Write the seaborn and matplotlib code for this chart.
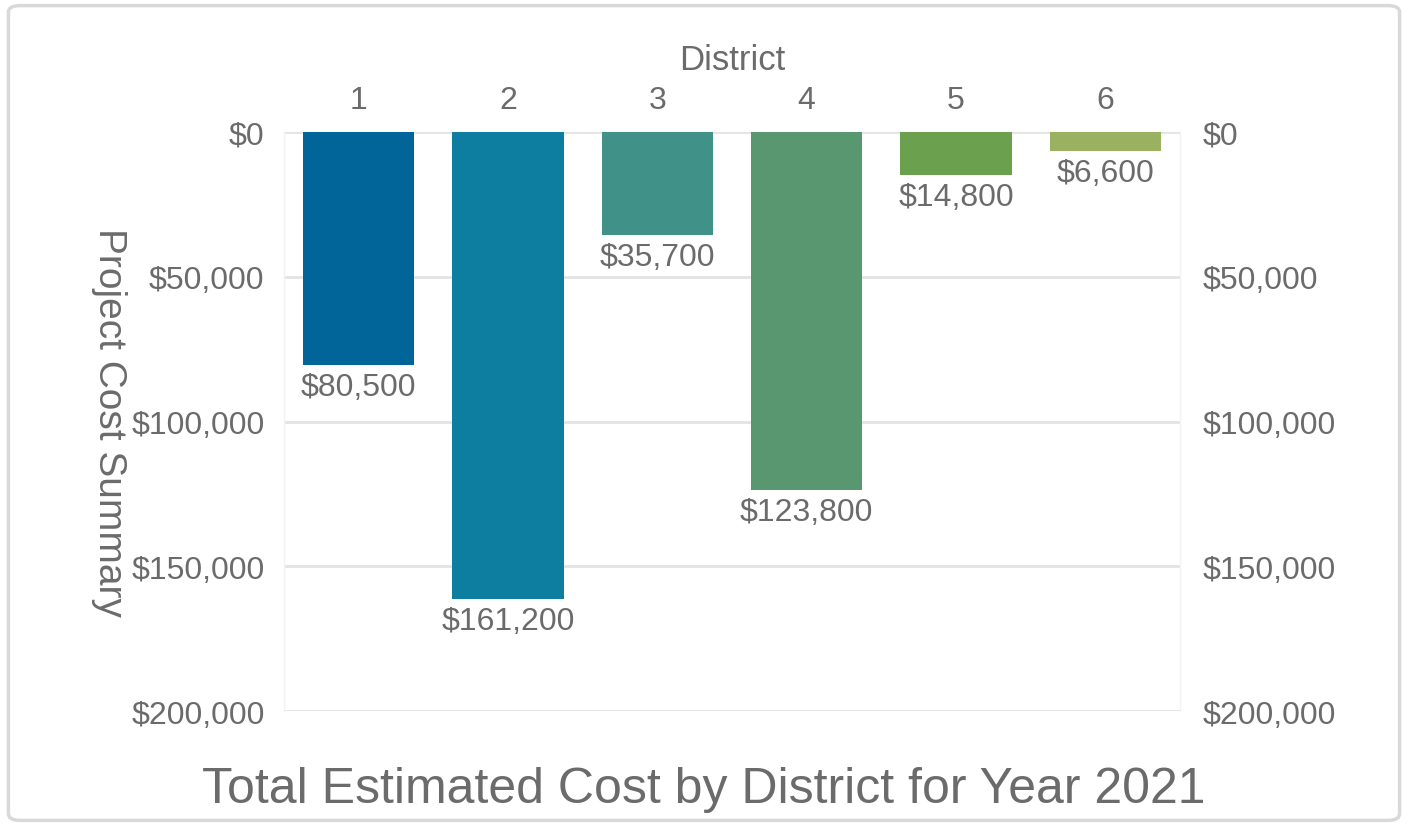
import matplotlib
matplotlib.use("Agg")
import matplotlib.pyplot as plt
import seaborn as sns
import pandas as pd
from matplotlib.patches import FancyBboxPatch
from matplotlib.ticker import FuncFormatter, MultipleLocator

districts = ["1", "2", "3", "4", "5", "6"]
costs = [80500, 161200, 35700, 123800, 14800, 6600]
bar_colors = ["#02659A", "#0E7EA0", "#409187", "#58976F", "#6BA04E", "#9AB162"]
title = "Total Estimated Cost by District for Year 2021"
x_label = "District"
y_label = "Project Cost Summary"

sns.set_theme(style="white")
plt.rcParams["font.family"] = ["Liberation Sans", "DejaVu Sans"]
text_color = "#6B6B6B"
grid_color = "#E3E3E3"

df = pd.DataFrame({"District": districts, "Cost": costs})

fig = plt.figure(figsize=(14.08, 8.28), dpi=100)
fig.patch.set_facecolor("white")
frame = FancyBboxPatch((0.006, 0.008), 0.988, 0.984,
                       boxstyle="round,pad=0,rounding_size=0.008",
                       transform=fig.transFigure, facecolor="none",
                       edgecolor="#D9D9D9", linewidth=2.5, zorder=-5)
fig.patches.append(frame)

ax = fig.add_axes([284 / 1408, 1 - 712 / 828, 896 / 1408, (712 - 133) / 828])
ax.set_facecolor("none")
sns.barplot(data=df, x="District", y="Cost", hue="District", palette=bar_colors,
            legend=False, width=0.745, ax=ax, saturation=1, linewidth=0)

ax.set_ylim(200000, 0)
ax.yaxis.set_major_locator(MultipleLocator(50000))
fmt = FuncFormatter(lambda v, p: "${:,.0f}".format(v))
ax.yaxis.set_major_formatter(fmt)
ax.grid(axis="y", color=grid_color, linewidth=2)
ax.set_axisbelow(True)
for name, s in ax.spines.items():
    if name in ("left", "right"):
        s.set_visible(True)
        s.set_color("#F2F2F2")
        s.set_linewidth(1)
    else:
        s.set_visible(False)

ax.xaxis.tick_top()
ax.xaxis.set_label_position("top")
ax.tick_params(axis="x", length=0, pad=12, labelsize=23, labelcolor=text_color)
ax.tick_params(axis="y", length=0, pad=14, labelsize=23, labelcolor=text_color)
ax.set_xlabel(x_label, fontsize=25, color=text_color, labelpad=12)
ax.set_ylabel(y_label, fontsize=28, color=text_color, rotation=270, labelpad=16,
              va="center")

ax2 = ax.twinx()
ax2.set_ylim(200000, 0)
ax2.yaxis.set_major_locator(MultipleLocator(50000))
ax2.yaxis.set_major_formatter(fmt)
ax2.tick_params(axis="y", length=0, pad=16, labelsize=23, labelcolor=text_color)
for s in ax2.spines.values():
    s.set_visible(False)
ax2.grid(False)

for i, v in enumerate(costs):
    ax.annotate("${:,.0f}".format(v), xy=(i, v), xytext=(0, -5),
                textcoords="offset points", ha="center", va="top",
                fontsize=23, color=text_color)

fig.text(0.5, 1 - 790 / 828, title, ha="center", va="center",
         fontsize=36, color=text_color)

fig.savefig("out.png", dpi=100, facecolor="white")
